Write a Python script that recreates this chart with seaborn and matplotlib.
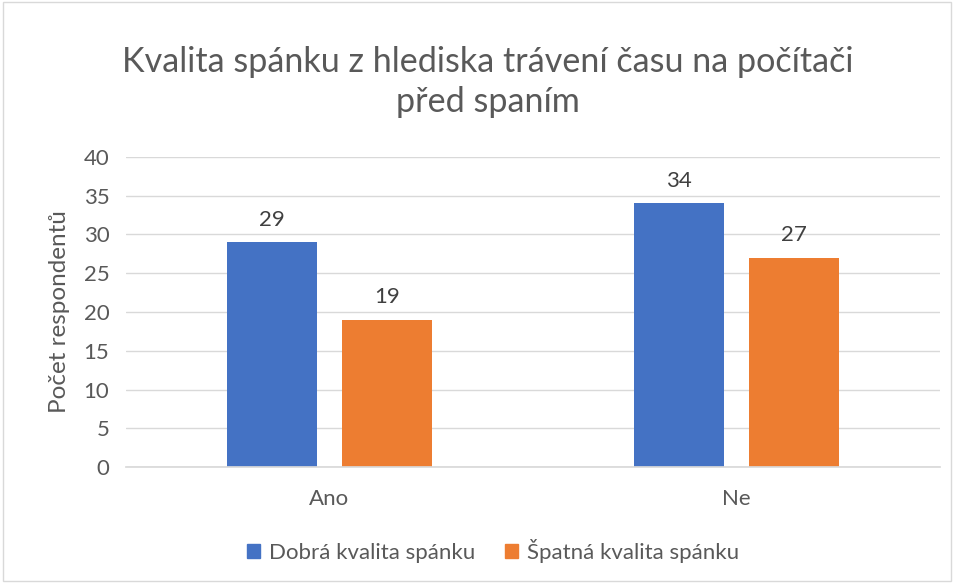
import matplotlib
matplotlib.use("Agg")
import matplotlib.pyplot as plt
import seaborn as sns
import pandas as pd
from matplotlib.patches import Rectangle

categories = ["Ano", "Ne"]
series_names = ["Dobrá kvalita spánku", "Špatná kvalita spánku"]
good_values = [29, 34]
bad_values = [19, 27]
y_ticks = [0, 5, 10, 15, 20, 25, 30, 35, 40]

df = pd.DataFrame({
    "cat": categories * 2,
    "series": [series_names[0]] * len(categories) + [series_names[1]] * len(categories),
    "val": good_values + bad_values,
})

sns.set_theme(style="white")
plt.rcParams['font.family'] = ['Lato', 'DejaVu Sans']

fig = plt.figure(figsize=(9.54, 5.83), dpi=100)
ax = fig.add_axes([126/954, 1 - 467/583, (940-126)/954, (467-157)/583])

colors = ["#4472C4", "#ED7D31"]
sns.barplot(data=df, x="cat", y="val", hue="series", palette=colors,
            width=0.565, gap=0.218, ax=ax, legend=True, saturation=1,
            linewidth=0)

ax.set_xlim(-0.5, 1.5)
ax.set_ylim(0, 40)
ax.set_yticks(y_ticks)
ax.yaxis.grid(True, color="#D9D9D9", linewidth=1)
ax.set_axisbelow(True)
for s in ["top", "right", "left"]:
    ax.spines[s].set_visible(False)
ax.spines["bottom"].set_color("#D9D9D9")
ax.tick_params(axis="both", colors="#595959", labelsize=16, length=0)
ax.tick_params(axis="y", pad=12)
ax.tick_params(axis="x", pad=16)
ax.set_xlabel("")
ax.set_ylabel("Počet respondentů", fontsize=17.5, color="#595959", labelpad=10)

for cont in ax.containers:
    ax.bar_label(cont, fontsize=16, color="#404040", padding=9)

ax.legend_.remove()
handles = [Rectangle((0, 0), 1, 1, color=c) for c in colors]
fig.legend(handles, series_names, loc="center", bbox_to_anchor=(493/954, 1 - 551/583),
           ncol=2, frameon=False, fontsize=16, handlelength=0.6, handleheight=0.6,
           columnspacing=1.3, handletextpad=0.4, labelcolor="#595959")

fig.text(488/954, 1 - 82/583, "Kvalita spánku z hlediska trávení času na počítači\npřed spaním",
         ha="center", va="center", fontsize=24.6, color="#595959", linespacing=1.3)

fig.patches.append(Rectangle((0.003, 0.003), 0.994, 0.994, transform=fig.transFigure,
                             fill=False, edgecolor="#D9D9D9", linewidth=1))

fig.savefig("out.png", dpi=100)
